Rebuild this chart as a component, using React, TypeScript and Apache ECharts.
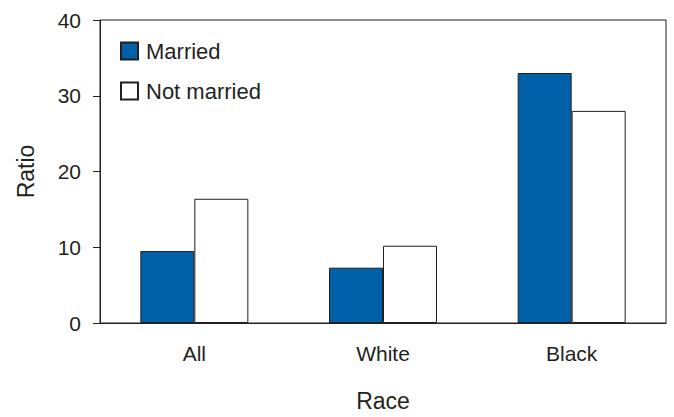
import React, { useEffect, useRef } from "react";
import * as echarts from "echarts";

const categories = ["All", "White", "Black"];
const married = [9.5, 7.3, 33.0];
const notMarried = [16.4, 10.2, 28.0];
const yTicks = { min: 0, max: 40, interval: 10 };

const FONT = "'Liberation Sans', Arial, Helvetica, sans-serif";
const TEXT = "#231F20";

export default function App() {
  const ref = useRef<HTMLDivElement>(null);
  useEffect(() => {
    const chart = echarts.init(ref.current!, null, { renderer: "svg" });
    chart.setOption({
      animation: false,
      backgroundColor: "#ffffff",
      textStyle: { fontFamily: FONT, color: TEXT },
      grid: {
        left: 100,
        top: 20,
        right: 8,
        bottom: 91,
        show: true,
        borderColor: TEXT,
        borderWidth: 1,
      },
      legend: {
        orient: "vertical",
        left: 120,
        top: 40,
        padding: 0,
        itemWidth: 17,
        itemHeight: 17,
        itemGap: 18,
        icon: "rect",
        textStyle: { fontSize: 22, color: TEXT, fontFamily: FONT, lineHeight: 22, padding: [0, 0, 0, 3] },
        data: ["Married", "Not married"],
      },
      xAxis: {
        type: "category",
        data: categories,
        name: "Race",
        nameLocation: "middle",
        nameGap: 66,
        nameTextStyle: { fontSize: 23, color: TEXT, fontFamily: FONT },
        axisLine: { lineStyle: { color: TEXT, width: 1 } },
        axisTick: { alignWithLabel: true, length: 6, lineStyle: { color: TEXT } },
        axisLabel: { fontSize: 21, color: TEXT, fontFamily: FONT, margin: 20 },
      },
      yAxis: {
        type: "value",
        min: yTicks.min,
        max: yTicks.max,
        interval: yTicks.interval,
        name: "Ratio",
        nameLocation: "middle",
        nameGap: 63,
        nameTextStyle: { fontSize: 23, color: TEXT, fontFamily: FONT },
        splitLine: { show: false },
        axisLine: { show: true, lineStyle: { color: TEXT, width: 1 } },
        axisTick: { show: true, length: 7, lineStyle: { color: TEXT } },
        axisLabel: { fontSize: 21, color: TEXT, fontFamily: FONT, margin: 19 },
      },
      series: [
        {
          name: "Married",
          type: "bar",
          data: married,
          barWidth: 54,
          barGap: "0%",
          itemStyle: { color: "#0060A8", borderColor: TEXT, borderWidth: 1 },
        },
        {
          name: "Not married",
          type: "bar",
          data: notMarried,
          barWidth: 54,
          barGap: "0%",
          itemStyle: { color: "#ffffff", borderColor: TEXT, borderWidth: 1 },
        },
      ],
    });
    return () => chart.dispose();
  }, []);
  return (
    <div
      ref={ref}
      style={{ position: "fixed", left: 0, top: 0, width: 674, height: 417 }}
    />
  );
}
